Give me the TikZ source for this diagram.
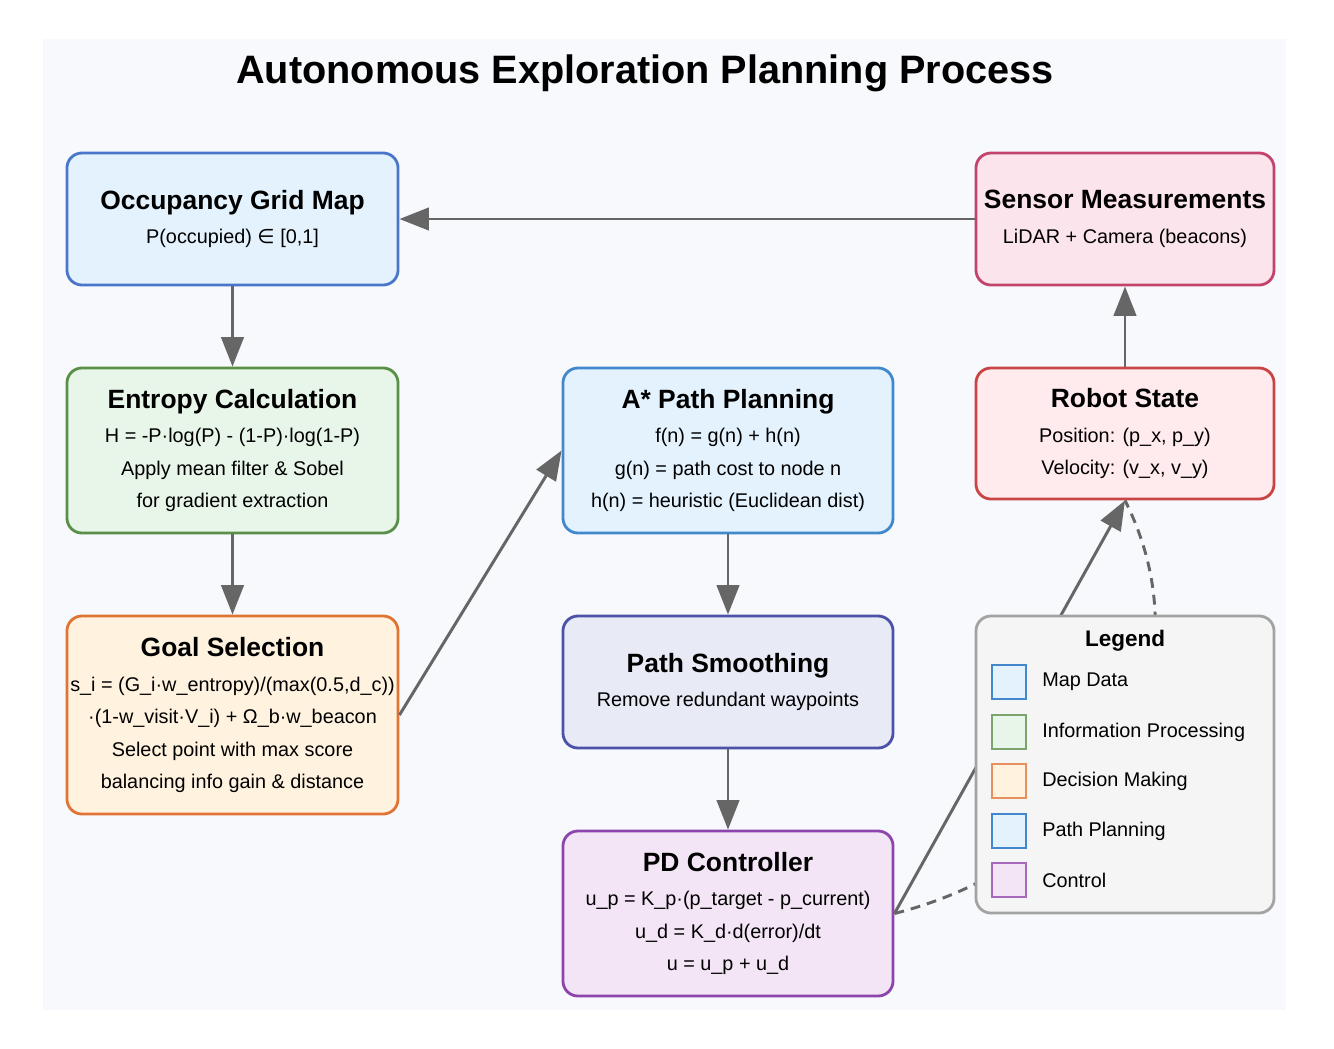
\documentclass[tikz,border=0pt]{standalone}
\usepackage{fontspec}
\setmainfont{Liberation Sans}
\newfontfamily\mathsym{DejaVu Sans}
\usepackage{tikz}
\usetikzlibrary{arrows.meta}

\definecolor{panel}{HTML}{F7F9FC}
\definecolor{linkgray}{HTML}{666666}
\definecolor{occfill}{HTML}{E3F2FD}\definecolor{occdraw}{HTML}{4A76C9}
\definecolor{entfill}{HTML}{E8F5E9}\definecolor{entdraw}{HTML}{5A8F47}
\definecolor{goalfill}{HTML}{FFF3E0}\definecolor{goaldraw}{HTML}{E07434}
\definecolor{astfill}{HTML}{E3F2FD}\definecolor{astdraw}{HTML}{4189CC}
\definecolor{smofill}{HTML}{E8EAF6}\definecolor{smodraw}{HTML}{4B52A8}
\definecolor{pdfill}{HTML}{F3E5F5}\definecolor{pddraw}{HTML}{8E44AD}
\definecolor{senfill}{HTML}{FCE4EC}\definecolor{sendraw}{HTML}{C2446C}
\definecolor{robfill}{HTML}{FFEBEE}\definecolor{robdraw}{HTML}{C94444}
\definecolor{legfill}{HTML}{F5F5F5}\definecolor{legdraw}{HTML}{A3A3A3}

\newcommand{\headfont}{\fontsize{18.8}{23}\selectfont\bfseries}
\newcommand{\linefont}{\fontsize{14.1}{23.1}\selectfont}

\tikzset{
  stage/.style={draw, line width=2pt, rounded corners=0.375cm, inner sep=0pt,
    align=center, font=\linefont, text=black},
  link/.style={draw=linkgray, line width=2.1pt, -{Triangle[length=21pt,width=16pt]}},
  swatch/.style={draw, line width=1.3pt, minimum size=0.85cm, inner sep=0pt},
  legitem/.style={anchor=west, inner sep=0pt, font=\linefont}
}

\begin{document}
\begin{tikzpicture}[x=0.025cm, y=-0.025cm]
	\useasboundingbox (0,0) rectangle (1334,1048);
	\fill[panel] (43,39) rectangle (1286,1010);
	\node[font=\fontsize{28.2}{32}\selectfont\bfseries] (title) at (645,73) {Autonomous Exploration Planning Process};

	% left column
	\node[stage, draw=occdraw, fill=occfill, minimum width=8.275cm, minimum height=3.3cm] (occ) at (232.5,219)
		{{\headfont Occupancy Grid Map}\\[1.5pt] P(occupied) {\mathsym ∈} [0,1]};
	\node[stage, draw=entdraw, fill=entfill, minimum width=8.275cm, minimum height=4.125cm] (ent) at (232.5,450.5)
		{{\headfont Entropy Calculation}\\[1.5pt] H = -P·log(P) - (1-P)·log(1-P)\\ Apply mean filter \& Sobel\\ for gradient extraction};
	\node[stage, draw=goaldraw, fill=goalfill, minimum width=8.275cm, minimum height=4.95cm] (goal) at (232.5,715)
		{{\headfont Goal Selection}\\[1.5pt] s\_i = (G\_i·w\_entropy)/(max(0.5,d\_c))\\ ·(1-w\_visit·V\_i) + Ω\_b·w\_beacon\\ Select point with max score\\ balancing info gain \& distance};

	% middle column
	\node[stage, draw=astdraw, fill=astfill, minimum width=8.25cm, minimum height=4.125cm] (astar) at (728,450.5)
		{{\headfont A* Path Planning}\\[1.5pt] f(n) = g(n) + h(n)\\ g(n) = path cost to node n\\ h(n) = heuristic (Euclidean dist)};
	\node[stage, draw=smodraw, fill=smofill, minimum width=8.25cm, minimum height=3.3cm] (smooth) at (728,682)
		{{\headfont Path Smoothing}\\[1.5pt] Remove redundant waypoints};
	\node[stage, draw=pddraw, fill=pdfill, minimum width=8.25cm, minimum height=4.125cm] (pd) at (728,913.5)
		{{\headfont PD Controller}\\[1.5pt] u\_p = K\_p·(p\_target - p\_current)\\ u\_d = K\_d·d(error)/dt\\ u = u\_p + u\_d};

	% right column
	\node[stage, draw=sendraw, fill=senfill, minimum width=7.45cm, minimum height=3.3cm] (sensor) at (1125,219)
		{{\headfont Sensor Measurements}\\[1.5pt] LiDAR + Camera (beacons)};
	\node[stage, draw=robdraw, fill=robfill, minimum width=7.45cm, minimum height=3.275cm] (robot) at (1125,433.5)
		{{\headfont Robot State}\\[1.5pt] Position: (p\_x, p\_y)\\ Velocity: (v\_x, v\_y)};

	% connectors
	\draw[link] (occ) -- (ent);
	\draw[link] (ent) -- (goal);
	\draw[link] (goal.east) -- (astar.west);
	\draw[link] (astar) -- (smooth);
	\draw[link] (smooth) -- (pd);
	\draw[link] (pd.east) -- (robot.south);
	\draw[draw=linkgray, line width=2.1pt, dashed, dash pattern=on 7pt off 5pt] (pd.east) .. controls (1094,863) and (1215,680) .. (robot.south);
	\draw[link] (robot) -- (sensor);
	\draw[link] (sensor) -- (occ);

	% legend
	\node[draw=legdraw, fill=legfill, line width=2pt, rounded corners=0.375cm, minimum width=7.45cm, minimum height=7.425cm] (legend) at (1125,764.5) {};
	\node[font=\fontsize{16}{19}\selectfont\bfseries] (legtitle) at (1125,641) {Legend};
	\node[swatch, draw=astdraw, fill=occfill] (sw1) at (1009,682) {};
	\node[legitem] (lg1) at (1042,682) {Map Data};
	\node[swatch, draw=entdraw!80, fill=entfill] (sw2) at (1009,732) {};
	\node[legitem] (lg2) at (1042,732) {Information Processing};
	\node[swatch, draw=goaldraw!80, fill=goalfill] (sw3) at (1009,781) {};
	\node[legitem] (lg3) at (1042,781) {Decision Making};
	\node[swatch, draw=astdraw, fill=astfill] (sw4) at (1009,831) {};
	\node[legitem] (lg4) at (1042,831) {Path Planning};
	\node[swatch, draw=pddraw!80, fill=pdfill] (sw5) at (1009,880) {};
	\node[legitem] (lg5) at (1042,880) {Control};
\end{tikzpicture}
\end{document}
